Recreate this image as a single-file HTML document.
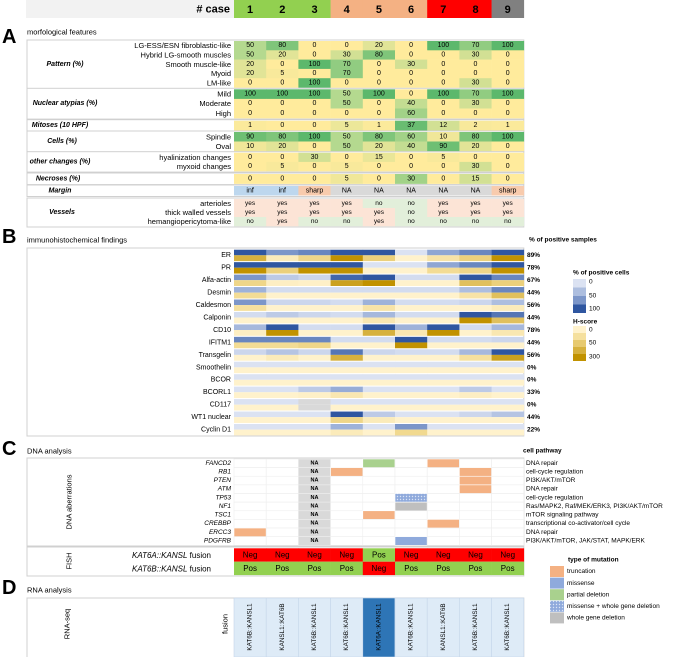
<!DOCTYPE html>
<html><head><meta charset="utf-8"><style>
html,body{margin:0;padding:0;background:#fff;}
svg{display:block;font-family:"Liberation Sans Narrow","Liberation Sans",sans-serif;}
</style></head><body>
<svg id="fig" width="677" height="657" viewBox="0 0 677 657" xmlns="http://www.w3.org/2000/svg"></svg>
<script>
const cases=['1','2','3','4','5','6','7','8','9'];
const caseColors=['#92d050','#92d050','#92d050','#f4b183','#f4b183','#f4b183','#ff0000','#ff0000','#808080'];
// Section A
const patternRows=['LG-ESS/ESN fibroblastic-like','Hybrid LG-smooth muscles','Smooth muscle-like','Myoid','LM-like'];
const patternVals=[[50,80,0,0,20,0,100,70,100],[50,20,0,30,80,0,0,30,0],[20,0,100,70,0,30,0,0,0],[20,5,0,70,0,0,0,0,0],[0,0,100,0,0,0,0,30,0]];
const atypiaRows=['Mild','Moderate','High'];
const atypiaVals=[[100,100,100,50,100,0,100,70,100],[0,0,0,50,0,40,0,30,0],[0,0,0,0,0,60,0,0,0]];
const mitosesVals=[1,0,0,5,1,37,12,2,1];
const cellRows=['Spindle','Oval'];
const cellVals=[[90,80,100,50,80,60,10,80,100],[10,20,0,50,20,40,90,20,0]];
const otherRows=['hyalinization changes','myxoid changes'];
const otherVals=[[0,0,30,0,15,0,5,0,0],[0,5,0,5,0,0,0,30,0]];
const necrosesVals=[0,0,0,5,0,30,0,15,0];
const marginVals=['inf','inf','sharp','NA','NA','NA','NA','NA','sharp'];
const vesselRows=['arterioles','thick walled vessels','hemangiopericytoma-like'];
const vesselVals=[['yes','yes','yes','yes','no','no','yes','yes','yes'],['yes','yes','yes','yes','yes','no','yes','yes','yes'],['no','yes','no','no','yes','no','no','no','no']];
// Section B
const markers=['ER','PR','Alfa-actin','Desmin','Caldesmon','Calponin','CD10','IFITM1','Transgelin','Smoothelin','BCOR','BCORL1','CD117','WT1 nuclear','Cyclin D1'];
const posCells=[[100,60,70,100,100,0,50,70,100],[100,100,100,100,0,0,50,70,100],[60,20,10,90,100,5,5,100,70],[40,5,5,5,5,5,5,30,70],[60,10,10,5,40,5,5,10,30],[5,20,10,5,35,5,5,100,80],[35,100,5,5,100,40,100,5,35],[70,70,70,5,5,100,5,5,10],[10,25,10,80,10,5,5,35,100],[0,0,0,0,0,0,0,0,0],[0,0,0,0,0,0,0,0,0],[0,0,20,45,0,0,0,20,0],[0,0,-1,0,0,0,0,0,0],[0,0,0,100,20,0,0,10,25],[0,0,0,40,0,60,0,0,0]];
const hScore=[[200,20,80,300,100,0,40,100,300],[300,100,300,300,0,0,60,80,300],[80,10,5,250,300,0,0,150,100],[60,0,0,0,0,0,0,40,150],[50,0,0,0,40,0,0,0,20],[0,0,0,0,30,0,0,300,150],[10,300,0,0,200,30,300,0,30],[60,60,80,0,0,300,0,0,0],[0,20,0,200,0,0,0,50,250],[0,0,0,0,0,0,0,0,0],[0,0,0,0,0,0,0,0,0],[0,0,5,30,0,0,0,10,0],[0,0,-1,0,0,0,0,0,0],[0,0,0,80,20,0,0,0,0],[0,0,0,20,0,70,0,0,0]];
const posSamples=['89%','78%','67%','44%','56%','44%','78%','44%','56%','0%','0%','33%','0%','44%','22%'];
// Section C
const genes=['FANCD2','RB1','PTEN','ATM','TP53','NF1','TSC1','CREBBP','ERCC3','PDGFRB'];
const pathways=['DNA repair','cell-cycle regulation','PI3K/AKT/mTOR','DNA repair','cell-cycle regulation','Ras/MAPK2, Raf/MEK/ERK3, PI3K/AKT/mTOR','mTOR signaling pathway','transcriptional co-activator/cell cycle','DNA repair','PI3K/AKT/mTOR, JAK/STAT, MAPK/ERK'];
const mutations=[['','','n','','p','','t','',''],['','','n','t','','','','t',''],['','','n','','','','','t',''],['','','n','','','','','t',''],['','','n','','','d','','',''],['','','n','','','w','','',''],['','','n','','t','','','',''],['','','n','','','','t','',''],['t','','n','','','','','',''],['','','n','','','m','','','']];
const fishA=['Neg','Neg','Neg','Neg','Pos','Neg','Neg','Neg','Neg'];
const fishB=['Pos','Pos','Pos','Pos','Neg','Pos','Pos','Pos','Pos'];
const rnaFusion=['KAT6B::KANSL1','KANSL1::KAT6B','KAT6B::KANSL1','KAT6B::KANSL1','KAT6A::KANSL1','KAT6B::KANSL1','KANSL1::KAT6B','KAT6B::KANSL1','KAT6B::KANSL1'];
const mutLegend=[['truncation','t'],['missense','m'],['partial deletion','p'],['missense + whole gene deletion','d'],['whole gene deletion','w']];

const svg=document.getElementById('fig');
const NS='http://www.w3.org/2000/svg';
const X0=234,CW=32.2,BL=27,BR=X0+9*CW;
function colX(i){return X0+i*CW;}
function mk(tag,attrs,parent){const e=document.createElementNS(NS,tag);for(const k in attrs)e.setAttribute(k,attrs[k]);(parent||svg).appendChild(e);return e;}
function txt(x,y,s,size,opts,parent){opts=opts||{};const e=mk('text',{x:x,y:y,'font-size':size,'text-anchor':opts.anchor||'start','fill':opts.fill||'#000','font-weight':opts.bold?'bold':'normal','font-style':opts.italic?'italic':'normal','dominant-baseline':'central'},parent);if(opts.rot)e.setAttribute('transform','rotate(-90 '+x+' '+y+')');e.textContent=s;return e;}
function lerp(a,b,t){const pa=[1,3,5].map(i=>parseInt(a.substr(i,2),16)),pb=[1,3,5].map(i=>parseInt(b.substr(i,2),16));return 'rgb('+pa.map((v,i)=>Math.round(v+(pb[i]-v)*t)).join(',')+')';}
function greenScale(v,max){const t=Math.max(0,Math.min(1,v/max));return t<0.5?lerp('#ffeb9c','#b4d98f',t*2):lerp('#b4d98f','#5cb86c',(t-0.5)*2);}
function blueScale(v){if(v<0)return '#d9d9d9';const t=v/100;return t<0.5?lerp('#dbe2f2','#8fa6d3',t*2):lerp('#8fa6d3','#2f56a0',(t-0.5)*2);}
function yellowScale(v){if(v<0)return '#d9d9d9';const t=Math.min(1,v/300);return t<0.2?lerp('#fff2cc','#f3dc95',t*5):lerp('#f3dc95','#c19200',(t-0.2)/0.8);}

let g=mk('g',{});
mk('rect',{x:BL-1,y:0,width:BR-BL+1,height:18,fill:'#f2f2f2'},g);
txt(230,9.5,'# case',11,{anchor:'end',bold:true},g);
cases.forEach((c,i)=>{const r=mk('rect',{x:colX(i),y:0,width:CW+0.3,height:18,fill:caseColors[i]},g);txt(colX(i)+CW/2,10,c,11,{anchor:'middle',bold:true},g);});

txt(2,37,'A',20,{bold:true});txt(BL,32,'morfological features',7.5);
function groupBox(y1,y2,label,lx){const r=mk('rect',{x:BL,y:y1-1,width:BR-BL,height:y2-y1+2,fill:'#fff',stroke:'#d0d0d0','stroke-width':1});txt(lx,(y1+y2)/2,label,7,{anchor:'middle',bold:true,italic:true});}
function numRows(y0,rh,rows,vals,max,label,lx){groupBox(y0,y0+rh*vals.length,label,lx);vals.forEach((row,r)=>{if(rows[r])txt(231,y0+r*rh+rh/2,rows[r],7.5,{anchor:'end'});row.forEach((v,i)=>{const c=mk('rect',{x:colX(i),y:y0+r*rh,width:CW+0.3,height:rh+0.3,fill:greenScale(v,max)});txt(colX(i)+CW/2,y0+r*rh+rh/2,String(v),7,{anchor:'middle'});});});}
numRows(41,9.3,patternRows,patternVals,100,'Pattern (%)',65);
numRows(89.3,9.6,atypiaRows,atypiaVals,100,'Nuclear atypias (%)',65);
numRows(120.7,9.5,[''],[mitosesVals],40,'Mitoses (10 HPF)',60);
numRows(132,9.5,cellRows,cellVals,100,'Cells (%)',62);
numRows(152.7,9.2,otherRows,otherVals,100,'other changes (%)',60);
numRows(174,9.6,[''],[necrosesVals],50,'Necroses (%)',58);
groupBox(186,195.5,'Margin',60);
const mColors={inf:'#bdd7ee',sharp:'#f8cbad',NA:'#d9d9d9'};
marginVals.forEach((v,i)=>{const c=mk('rect',{x:colX(i),y:186,width:CW+0.3,height:9.5,fill:mColors[v]});txt(colX(i)+CW/2,190.8,v,7,{anchor:'middle'});});
groupBox(199,226,'Vessels',62);
vesselVals.forEach((row,r)=>{txt(231,199+r*9+4.5,vesselRows[r],7.5,{anchor:'end'});row.forEach((v,i)=>{const c=mk('rect',{x:colX(i),y:199+r*9,width:CW+0.3,height:9.3,fill:v==='yes'?'#fce4d6':'#e2efda'});txt(colX(i)+CW/2,199+r*9+4.5,v,6.5,{anchor:'middle'});});});

txt(2,237,'B',20,{bold:true});txt(BL,240,'immunohistochemical findings',7.5);
txt(529,240,'% of positive samples',6.5,{bold:true});
const bb=mk('rect',{x:BL,y:248,width:BR-BL,height:188,fill:'#fff',stroke:'#d0d0d0'});
const MH=12.45,MY=249.7;
markers.forEach((m,r)=>{const y=MY+r*MH;txt(231,y+6,m,7,{anchor:'end'});txt(527,y+6,posSamples[r],6.5,{bold:true});
 for(let i=0;i<9;i++){const a=mk('rect',{x:colX(i),y:y,width:CW+0.3,height:5.6,fill:blueScale(posCells[r][i])});
 const b=mk('rect',{x:colX(i),y:y+5.6,width:CW+0.3,height:5.8,fill:yellowScale(hScore[r][i])});}});
let lg=mk('g',{});
txt(573,273,'% of positive cells',6.5,{bold:true},lg);
[0,30,60,100].forEach((v,k)=>mk('rect',{x:573,y:279+k*8.5,width:13,height:8.5,fill:blueScale(v)},lg));
txt(589,282,'0',6.5,{},lg);txt(589,296,'50',6.5,{},lg);txt(589,309,'100',6.5,{},lg);
txt(573,322,'H-score',6.5,{bold:true},lg);
[0,50,120,200,300].forEach((v,k)=>mk('rect',{x:573,y:326+k*7,width:13,height:7,fill:yellowScale(v)},lg));
txt(589,330,'0',6.5,{},lg);txt(589,343,'50',6.5,{},lg);txt(589,357,'300',6.5,{},lg);

txt(2,449,'C',20,{bold:true});txt(BL,451,'DNA analysis',7.5);
txt(523,451,'cell pathway',6.5,{bold:true});
const cb=mk('rect',{x:BL,y:458,width:BR-BL,height:88,fill:'#fff',stroke:'#d0d0d0'});
txt(69,502,'DNA aberrations',7.5,{anchor:'middle',rot:true});
const mutColor={t:'#f4b183',m:'#8faadc',p:'#a9d18e',w:'#bfbfbf',n:'#d9d9d9'};
const pat=mk('pattern',{id:'dots',width:3,height:3,patternUnits:'userSpaceOnUse'},mk('defs',{}));
mk('rect',{width:3,height:3,fill:'#8faadc'},pat);mk('circle',{cx:1.5,cy:1.5,r:0.7,fill:'#dbe4f5'},pat);
const GH=8.63,GY=459;
genes.forEach((gname,r)=>{const y=GY+r*GH;txt(231,y+GH/2,gname,6.5,{anchor:'end',italic:true});txt(526,y+GH/2,pathways[r],6.5);
 for(let i=0;i<9;i++){const v=mutations[r][i];const c=mk('rect',{x:colX(i),y:y,width:CW,height:GH,fill:v==='d'?'url(#dots)':(v?mutColor[v]:'#fff'),stroke:v&&v!=='n'?'#fff':'#eeeeee','stroke-width':0.6});if(v==='n')txt(colX(i)+CW/2,y+GH/2,'NA',5.5,{anchor:'middle',bold:true});}});
const fb=mk('rect',{x:BL,y:547,width:BR-BL,height:29,fill:'#fff',stroke:'#d0d0d0'});
txt(69,561,'FISH',7.5,{anchor:'middle',rot:true});
function fishRow(y,label,vals,key){const t=mk('text',{x:211,y:y+6.7,'font-size':8,'text-anchor':'end','dominant-baseline':'central'});const a=mk('tspan',{'font-style':'italic'},t);a.textContent=label;const b=mk('tspan',{},t);b.textContent=' fusion';
 vals.forEach((v,i)=>{const c=mk('rect',{x:colX(i),y:y,width:CW+0.3,height:13.4,fill:v==='Neg'?'#ff0000':'#92d050'});txt(colX(i)+CW/2,y+6.9,v,8,{anchor:'middle'});});}
fishRow(548.3,'KAT6A::KANSL',fishA,'kat6a');
fishRow(561.7,'KAT6B::KANSL',fishB,'kat6b');
let ml=mk('g',{});
txt(568,560,'type of mutation',6.5,{bold:true},ml);
mutLegend.forEach((m,k)=>{const y=566+k*11.6;mk('rect',{x:550,y:y,width:14,height:11,fill:m[1]==='d'?'url(#dots)':mutColor[m[1]]},ml);txt(567,y+5.7,m[0],6.5,{},ml);});

txt(2,588,'D',20,{bold:true});txt(BL,590,'RNA analysis',7.5);
const rb=mk('rect',{x:BL,y:598,width:BR-BL,height:60,fill:'#fff',stroke:'#d0d0d0'});
txt(67,624,'RNA-seq',7.5,{anchor:'middle',rot:true});
txt(225,624,'fusion',7.5,{anchor:'middle',rot:true});
rnaFusion.forEach((f,i)=>{const dark=f==='KAT6A::KANSL1';const c=mk('rect',{x:colX(i),y:598,width:CW,height:59,fill:dark?'#2e75b6':'#deebf7',stroke:'#c5d6ea','stroke-width':0.6});txt(colX(i)+CW/2,627,f,6.3,{anchor:'middle',rot:true});});
</script>
</body></html>
